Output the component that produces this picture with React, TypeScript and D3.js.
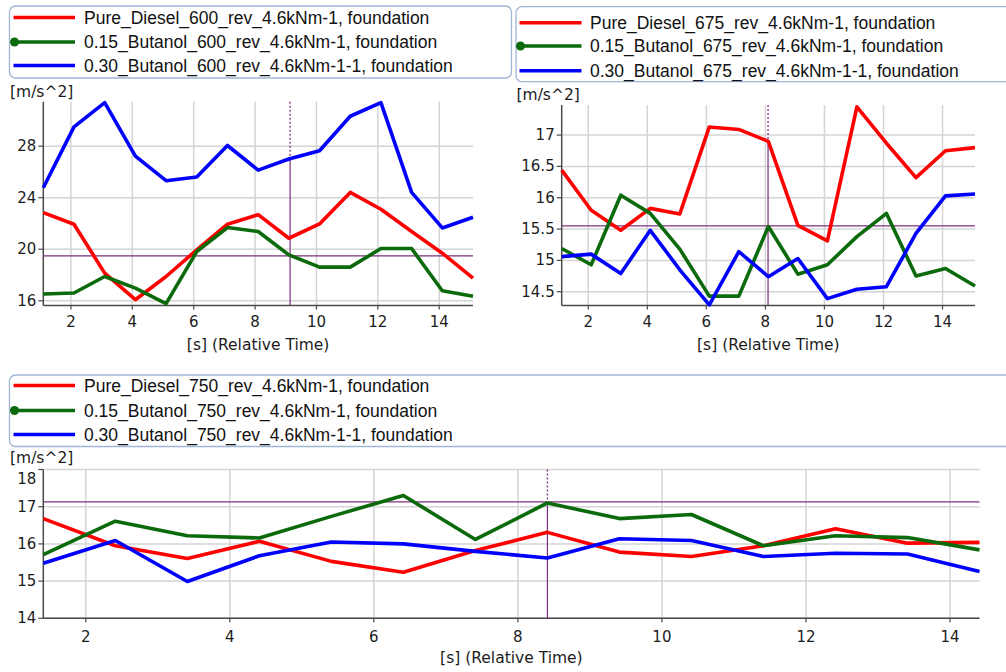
import React from "react";
import * as d3 from "d3";

// ---------- data ----------
const xTop = [1.1, 2.1, 3.1, 4.1, 5.1, 6.1, 7.1, 8.1, 9.1, 10.1, 11.1, 12.1, 13.1, 14.1, 15.1];
const xBottom = [1.41, 2.41, 3.41, 4.41, 5.41, 6.41, 7.41, 8.41, 9.41, 10.41, 11.41, 12.41, 13.41, 14.41];

const diesel600 = [22.84, 21.94, 18.14, 16.08, 17.88, 19.95, 21.94, 22.68, 20.85, 21.96, 24.41, 23.1, 21.37, 19.69, 17.75];
const butanol15_600 = [16.52, 16.6, 17.88, 16.98, 15.77, 19.82, 21.68, 21.37, 19.56, 18.61, 18.61, 20.05, 20.05, 16.77, 16.34];
const butanol30_600 = [24.77, 29.5, 31.38, 27.23, 25.32, 25.6, 28.05, 26.14, 27.0, 27.64, 30.32, 31.38, 24.41, 21.65, 22.48];

const diesel675 = [16.44, 15.8, 15.48, 15.83, 15.74, 17.13, 17.09, 16.9, 15.56, 15.31, 17.45, 16.87, 16.32, 16.75, 16.8];
const butanol15_675 = [15.19, 14.93, 16.04, 15.75, 15.18, 14.43, 14.43, 15.54, 14.78, 14.93, 15.38, 15.75, 14.75, 14.87, 14.59];
const butanol30_675 = [15.06, 15.1, 14.79, 15.48, 14.85, 14.29, 15.14, 14.74, 15.03, 14.39, 14.54, 14.58, 15.43, 16.03, 16.06];

const diesel750 = [16.68, 15.95, 15.61, 16.07, 15.53, 15.24, 15.82, 16.31, 15.78, 15.66, 15.95, 16.41, 16.02, 16.04];
const butanol15_750 = [15.71, 16.61, 16.22, 16.16, 16.74, 17.3, 16.12, 17.1, 16.68, 16.79, 15.95, 16.22, 16.17, 15.84];
const butanol30_750 = [15.48, 16.09, 14.99, 15.68, 16.05, 16.0, 15.8, 15.62, 16.14, 16.09, 15.66, 15.75, 15.73, 15.26];

const labels600 = [
  "Pure_Diesel_600_rev_4.6kNm-1, foundation",
  "0.15_Butanol_600_rev_4.6kNm-1, foundation",
  "0.30_Butanol_600_rev_4.6kNm-1-1, foundation",
];
const labels675 = [
  "Pure_Diesel_675_rev_4.6kNm-1, foundation",
  "0.15_Butanol_675_rev_4.6kNm-1, foundation",
  "0.30_Butanol_675_rev_4.6kNm-1-1, foundation",
];
const labels750 = [
  "Pure_Diesel_750_rev_4.6kNm-1, foundation",
  "0.15_Butanol_750_rev_4.6kNm-1, foundation",
  "0.30_Butanol_750_rev_4.6kNm-1-1, foundation",
];

const xTicks = [2, 4, 6, 8, 10, 12, 14];
const yTicks600 = [16, 20, 24, 28];
const yTicks675 = [14.5, 15, 15.5, 16, 16.5, 17];
const yTicks750 = [14, 15, 16, 17, 18];

const cursor600 = { x: 9.14, y: 19.48 };
const cursor675 = { x: 8.09, y: 15.55 };
const cursor750 = { x: 8.41, y: 17.13 };

const COLORS = ["#ff0000", "#0b6a0b", "#0000ff"];
const AXIS_FONT = "'DejaVu Sans', Verdana, sans-serif";
const LEG_FONT = "'Liberation Sans', Arial, sans-serif";
const TXT = "#1c1c1c";
const PURPLE = "#7b2f7d";

type PanelProps = {
  xs: number[];
  series: number[][];
  xDomain: [number, number];
  yDomain: [number, number];
  yTicks: number[];
  rect: { l: number; r: number; t: number; b: number };
  cursor: { x: number; y: number };
  yLabelPos: [number, number];
  xTitleY: number;
  tickLabelY: number;
  topLabelShift?: number;
};

function Panel(p: PanelProps) {
  const { l, r, t, b } = p.rect;
  const x = d3.scaleLinear().domain(p.xDomain).range([l, r]);
  const y = d3.scaleLinear().domain(p.yDomain).range([b, t]);
  const line = d3
    .line<[number, number]>()
    .x((d) => x(d[0]))
    .y((d) => y(d[1]));
  // top of solid cursor segment: highest series value at cursor x
  const vals = p.series.map((s) => {
    const i = d3.bisectRight(p.xs, p.cursor.x);
    if (i <= 0) return s[0];
    if (i >= p.xs.length) return s[s.length - 1];
    const f = (p.cursor.x - p.xs[i - 1]) / (p.xs[i] - p.xs[i - 1]);
    return s[i - 1] + f * (s[i] - s[i - 1]);
  });
  const maxV = Math.max(...(vals as number[]));
  const cx = x(p.cursor.x);
  return (
    <g>
      {xTicks.map((v) => (
        <line key={"gx" + v} x1={x(v)} x2={x(v)} y1={t} y2={b} stroke="#d4d4d4" strokeWidth={1.5} />
      ))}
      {p.yTicks.map((v) => (
        <line key={"gy" + v} x1={l} x2={r} y1={y(v)} y2={y(v)} stroke="#d4d4d4" strokeWidth={1.5} />
      ))}
      <line x1={l} x2={l} y1={t} y2={b} stroke="#4a4a4a" strokeWidth={1.5} />
      <line x1={l} x2={r} y1={b} y2={b} stroke="#4a4a4a" strokeWidth={1.5} />
      {p.yTicks.map((v) => (
        <line key={"ty" + v} x1={l - 5} x2={l} y1={y(v)} y2={y(v)} stroke="#4a4a4a" strokeWidth={1.2} />
      ))}
      {xTicks.map((v) => (
        <line key={"tx" + v} x1={x(v)} x2={x(v)} y1={b} y2={b + 4} stroke="#4a4a4a" strokeWidth={1.2} />
      ))}
      {p.yTicks.map((v, i) => (
        <text
          key={"ly" + v}
          x={l - 7}
          y={y(v) + (i === p.yTicks.length - 1 && p.topLabelShift ? p.topLabelShift : 0)}
          textAnchor="end"
          dominantBaseline="central"
          fontFamily={AXIS_FONT}
          fontSize={15}
          fill={TXT}
        >
          {String(v)}
        </text>
      ))}
      {xTicks.map((v) => (
        <text
          key={"lx" + v}
          x={x(v)}
          y={p.tickLabelY}
          textAnchor="middle"
          dominantBaseline="central"
          fontFamily={AXIS_FONT}
          fontSize={15}
          fill={TXT}
        >
          {v}
        </text>
      ))}
      <text
        x={(l + r) / 2}
        y={p.xTitleY}
        textAnchor="middle"
        dominantBaseline="central"
        fontFamily={AXIS_FONT}
        fontSize={15.5}
        fill={TXT}
      >
        [s] (Relative Time)
      </text>
      <text
        x={p.yLabelPos[0]}
        y={p.yLabelPos[1]}
        dominantBaseline="central"
        fontFamily={AXIS_FONT}
        fontSize={15.5}
        fill={TXT}
      >
        [m/s^2]
      </text>
      <line x1={l} x2={r} y1={y(p.cursor.y)} y2={y(p.cursor.y)} stroke={PURPLE} strokeWidth={1.2} />
      <line x1={cx} x2={cx} y1={t} y2={y(maxV)} stroke={PURPLE} strokeWidth={1.3} strokeDasharray="2,2" />
      <line x1={cx} x2={cx} y1={y(maxV)} y2={b} stroke={PURPLE} strokeWidth={1.2} />
      {p.series.map((s, i) => (
        <path
          key={"s" + i}
          d={line(p.xs.map((xv, j) => [xv, s[j]] as [number, number])) || ""}
          fill="none"
          stroke={COLORS[i]}
          strokeWidth={3.6}
          strokeLinejoin="round"
        />
      ))}
    </g>
  );
}

function Legend({
  x0,
  y0,
  w,
  h,
  rows,
  labels,
  lineX,
  textX,
}: {
  x0: number;
  y0: number;
  w: number;
  h: number;
  rows: number[];
  labels: string[];
  lineX: [number, number];
  textX: number;
}) {
  return (
    <g>
      <rect x={x0} y={y0} width={w} height={h} rx={6} fill="#fff" stroke="#9fb6d6" strokeWidth={1.3} />
      {labels.map((lab, i) => (
        <g key={i}>
          <line x1={lineX[0]} x2={lineX[1]} y1={rows[i]} y2={rows[i]} stroke={COLORS[i]} strokeWidth={3.5} />
          {i === 1 && <circle cx={lineX[0] + 1} cy={rows[i]} r={4.5} fill={COLORS[i]} />}
          <text x={textX} y={rows[i]} dominantBaseline="central" fontFamily={LEG_FONT} fontSize={17.5} fill="#111">
            {lab}
          </text>
        </g>
      ))}
    </g>
  );
}

export default function App() {
  return (
    <svg width={1006} height={672} style={{ position: "absolute", left: 0, top: 0, background: "#fff" }}>
      <rect x={0} y={0} width={1006} height={672} fill="#fff" />
      <Legend x0={9.5} y0={6} w={502} h={72} rows={[17.5, 42, 65.5]} labels={labels600} lineX={[13.5, 75]} textX={84} />
      <Legend x0={516} y0={6.7} w={520} h={75} rows={[22.7, 46, 70.7]} labels={labels675} lineX={[519.5, 581.5]} textX={590} />
      <Legend x0={9.5} y0={375} w={1010} h={71.5} rows={[385.5, 410.5, 434.5]} labels={labels750} lineX={[13.5, 75]} textX={84} />

      <Panel
        xs={xTop}
        series={[diesel600, butanol15_600, butanol30_600]}
        xDomain={[1.1, 15.1]}
        yDomain={[15.63, 31.45]}
        yTicks={yTicks600}
        rect={{ l: 43.3, r: 473, t: 101.7, b: 305.5 }}
        cursor={cursor600}
        yLabelPos={[10, 92]}
        xTitleY={345}
        tickLabelY={322}
      />
      <Panel
        xs={xTop}
        series={[diesel675, butanol15_675, butanol30_675]}
        xDomain={[1.1, 15.1]}
        yDomain={[14.28, 17.48]}
        yTicks={yTicks675}
        rect={{ l: 561.7, r: 975, t: 105, b: 305.5 }}
        cursor={cursor675}
        yLabelPos={[516.5, 95]}
        xTitleY={345}
        tickLabelY={322}
      />
      <Panel
        xs={xBottom}
        series={[diesel750, butanol15_750, butanol30_750]}
        xDomain={[1.41, 14.41]}
        yDomain={[14, 18]}
        yTicks={yTicks750}
        rect={{ l: 43.3, r: 979.5, t: 469.5, b: 618.3 }}
        cursor={cursor750}
        yLabelPos={[10, 458]}
        xTitleY={658}
        tickLabelY={636.5}
        topLabelShift={9}
      />
    </svg>
  );
}
